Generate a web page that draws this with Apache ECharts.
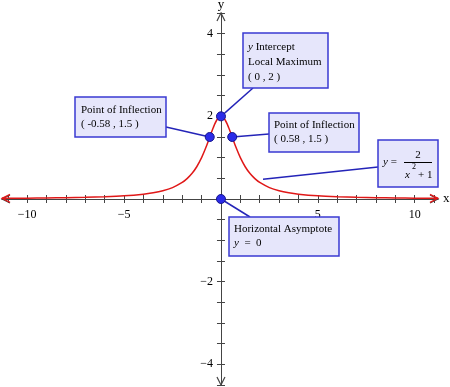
<!DOCTYPE html>
<html><head><meta charset="utf-8">
<script src="https://cdn.jsdelivr.net/npm/echarts@6/dist/echarts.min.js"></script>
<style>html,body{margin:0;padding:0;background:#fff}#c{width:450px;height:387px}</style>
</head><body><div id="c"></div>
<script>
// ---- data ----
const curveX = [-11.3, -10, -9, -8, -7, -6, -5, -4, -3.5, -3, -2.5, -2, -1.75, -1.5, -1.25, -1, -0.8, -0.6, -0.4, -0.2, 0, 0.2, 0.4, 0.6, 0.8, 1, 1.25, 1.5, 1.75, 2, 2.5, 3, 3.5, 4, 5, 6, 7, 8, 9, 10, 11.2];
const curveY = [0.0155, 0.0198, 0.0244, 0.0308, 0.04, 0.0541, 0.0769, 0.1176, 0.1509, 0.2, 0.2759, 0.4, 0.4923, 0.6154, 0.7805, 1.0, 1.2195, 1.4706, 1.7241, 1.9231, 2, 1.9231, 1.7241, 1.4706, 1.2195, 1.0, 0.7805, 0.6154, 0.4923, 0.4, 0.2759, 0.2, 0.1509, 0.1176, 0.0769, 0.0541, 0.04, 0.0308, 0.0244, 0.0198, 0.0158];
const pointX = [0, -0.58, 0.58, 0];
const pointY = [2, 1.5, 1.5, 0];
const xTicks = [-11, -10, -9, -8, -7, -6, -5, -4, -3, -2, -1, 1, 2, 3, 4, 5, 6, 7, 8, 9, 10, 11];
const yTicks = [-4.5, -4, -3.5, -3, -2.5, -2, -1.5, -1, -0.5, 0.5, 1, 1.5, 2, 2.5, 3, 3.5, 4, 4.5];
const xLabels = [-10, -5, 5, 10];
const yLabels = [-4, -2, 2, 4];
const xRange = [-11.3, 11.2];
const yRange = [-4.5, 4.5];

const chart = echarts.init(document.getElementById('c'), null, {renderer: 'canvas'});
const serif = '"Liberation Serif","Times New Roman",serif';
const axisColor = '#444';
const fmt = v => (v < 0 ? '\u2212' + Math.abs(v) : String(v));

function xAxisDef(pos, primary) {
  return {
    type: 'value', position: pos, min: xRange[0], max: xRange[1],
    axisLine: {show: primary, onZero: true, onZeroAxisIndex: 0, lineStyle: {color: axisColor, width: 1}},
    axisTick: {show: true, customValues: xTicks, length: 4, lineStyle: {color: axisColor, width: 1}},
    axisLabel: {show: false},
    splitLine: {show: false},
    name: primary ? 'x' : '', nameLocation: 'end', nameGap: 5,
    nameTextStyle: {color: '#000', fontFamily: serif, fontSize: 13}
  };
}
function yAxisDef(pos, primary) {
  return {
    type: 'value', position: pos, min: yRange[0], max: yRange[1],
    axisLine: {show: primary, onZero: true, onZeroAxisIndex: 0, lineStyle: {color: axisColor, width: 1}},
    axisTick: {show: true, customValues: yTicks, length: 4, lineStyle: {color: axisColor, width: 1}},
    axisLabel: {show: false},
    splitLine: {show: false},
    name: primary ? 'y' : '', nameLocation: 'end', nameGap: 2,
    nameTextStyle: {color: '#000', fontFamily: serif, fontSize: 13}
  };
}

chart.setOption({
  animation: false,
  backgroundColor: '#fff',
  grid: {left: 2, top: 13, width: 436, height: 372, containLabel: false, outerBoundsMode: 'none'},
  xAxis: [xAxisDef('bottom', true), xAxisDef('top', false)],
  yAxis: [yAxisDef('left', true), yAxisDef('right', false)],
  series: [
    {
      type: 'line', xAxisIndex: 0, yAxisIndex: 0, z: 3,
      data: curveX.map((x, i) => [x, curveY[i]]),
      showSymbol: false, smooth: 0.3,
      lineStyle: {color: '#e01818', width: 1.5}
    },
    {
      type: 'scatter', xAxisIndex: 0, yAxisIndex: 0, z: 6,
      data: pointX.map((x, i) => [x, pointY[i]]),
      symbolSize: 9,
      itemStyle: {color: '#2b2be8', borderColor: '#16168c', borderWidth: 1, opacity: 1}
    }
  ]
});

const P = (x, y) => chart.convertToPixel({seriesIndex: 0}, [x, y]);
function chevron(tip, dx, dy, color, z) {
  const len = 8, half = 4;
  const px = -dy, py = dx;
  return {
    type: 'polyline', z: z, silent: true,
    shape: {points: [[tip[0] - dx * len + px * half, tip[1] - dy * len + py * half], tip, [tip[0] - dx * len - px * half, tip[1] - dy * len - py * half]]},
    style: {stroke: color, lineWidth: 1.2, fill: null}
  };
}
const boxFill = '#e6e6fb', boxStroke = '#3a3ad2', leader = '#2424b8';
function box(x, y, w, h) {
  return {type: 'rect', z: 20, shape: {x: x, y: y, width: w, height: h}, style: {fill: boxFill, stroke: boxStroke, lineWidth: 1.5}};
}
function line(a, b) {
  return {type: 'line', z: 4, shape: {x1: a[0], y1: a[1], x2: b[0], y2: b[1]}, style: {stroke: leader, lineWidth: 1.5}};
}
const rich = {i: {fontStyle: 'italic', fontFamily: serif, fontSize: 11, fill: '#000'}};
function txt(x, y, text, lh, extra, z) {
  return {
    type: 'text', z: z || 21, x: x, y: y,
    style: Object.assign({text: text, fill: '#000', font: '11px ' + serif, lineHeight: lh || 15, verticalAlign: 'top', align: 'left', rich: rich}, extra || {})
  };
}

// tick labels placed through the axis scales
const tickLabels = [];
xLabels.forEach(v => {
  const p = P(v, 0);
  tickLabels.push(txt(p[0], p[1] + 10, fmt(v), 12, {align: 'center', verticalAlign: 'top', font: '12px ' + serif}, 2));
});
yLabels.forEach(v => {
  const p = P(0, v);
  tickLabels.push(txt(p[0] - 8, p[1], fmt(v), 12, {align: 'right', verticalAlign: 'middle', font: '12px ' + serif}, 2));
});

const lastI = curveX.length - 1;
const graphics = tickLabels.concat([
  chevron(P(xRange[0], 0), -1, 0, axisColor, 3),
  chevron(P(xRange[1], 0), 1, 0, axisColor, 3),
  chevron(P(0, yRange[1]), 0, -1, axisColor, 3),
  chevron(P(0, yRange[0]), 0, 1, axisColor, 3),
  chevron(P(curveX[0], curveY[0]), -1, 0, '#e01818', 5),
  chevron(P(curveX[lastI], curveY[lastI]), 1, 0, '#e01818', 5),
  // leader lines
  line(P(pointX[0], pointY[0]), [253, 88]),
  line(P(pointX[1], pointY[1]), [166, 127]),
  line(P(pointX[2], pointY[2]), [269, 134]),
  line(P(2.17, 0.48), [378, 167]),
  line(P(pointX[3], pointY[3]), [250, 217]),
  // boxes
  box(243, 33, 85, 55),
  txt(248, 40, '{i|y} Intercept\nLocal Maximum\n( 0 , 2 )', 15),
  box(75, 97, 91, 40),
  txt(81, 103, 'Point of Inflection\n( -0.58 , 1.5 )', 14),
  box(269, 113, 90, 39),
  txt(274, 118, 'Point of Inflection\n( 0.58 , 1.5 )', 14),
  box(229, 217, 110, 39),
  txt(234, 222, 'Horizontal Asymptote\n{i|y}  =  0', 14),
  box(378, 140, 60, 47),
  txt(383, 162, '{i|y} =', 15, {verticalAlign: 'middle'}),
  txt(418, 155, '2', 15, {verticalAlign: 'middle', align: 'center'}),
  {type: 'line', z: 21, shape: {x1: 404, y1: 162.5, x2: 432, y2: 162.5}, style: {stroke: '#000', lineWidth: 1}},
  txt(405, 175, '{i|x}', 15, {verticalAlign: 'middle'}),
  txt(412, 167, '2', 10, {verticalAlign: 'middle', font: '8px ' + serif}),
  txt(418, 175, '+ 1', 15, {verticalAlign: 'middle'})
]);
chart.setOption({graphic: graphics});
</script>
</body></html>
